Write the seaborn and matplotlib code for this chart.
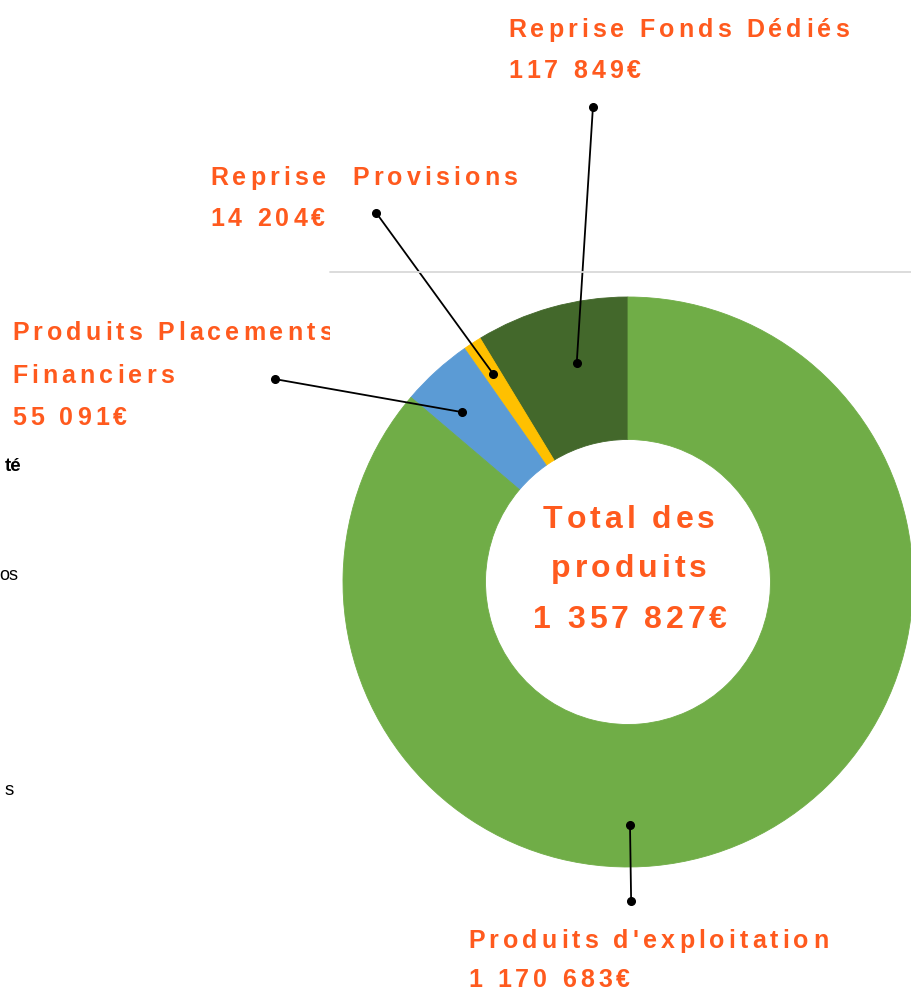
import matplotlib
matplotlib.use("Agg")
import matplotlib.pyplot as plt
import seaborn as sns
from matplotlib.font_manager import FontProperties
from matplotlib.lines import Line2D
from matplotlib.transforms import Bbox

sns.set_theme(style="white")
plt.rcParams["font.family"] = ["Liberation Sans", "DejaVu Sans"]

# -------------------------------------------
# Data
# -------------------------------------------
categories = ["Reprise Fonds Dédiés", "Reprise  Provisions",
              "Produits Placements Financiers", "Produits d'exploitation"]
values = [117849, 14204, 55091, 1170683]
value_labels = ["117 849€", "14 204€", "55 091€", "1 170 683€"]
total_label = "1 357 827€"

colors = ["#43682B", "#FFC000", "#5B9BD5", "#70AD47"]
ORANGE = "#FF5A1E"

W, H = 912, 993
fig = plt.figure(figsize=(W / 100, H / 100), dpi=100)
fig.patch.set_facecolor("white")

# pie centre (628, 582) px, radius 285 px
cx, cy, R = 628, 582, 285
ax = fig.add_axes([(cx - R) / W, (H - cy - R) / H, 2 * R / W, 2 * R / H])
ax.pie(values, colors=colors, startangle=90, counterclock=True, radius=1,
       wedgeprops=dict(width=0.5, linewidth=0.6))
for w, c in zip(ax.patches, colors):
    w.set_edgecolor(c)
ax.set_xlim(-1, 1)
ax.set_ylim(-1, 1)
ax.set_aspect("equal")
ax.axis("off")

renderer = fig.canvas.get_renderer()


def spaced(x, y, s, size, track, ha="left", weight="bold", color=ORANGE, clip_x=None):
    """draw text char by char with letter spacing, x/y in px from top-left, y = baseline"""
    prop = FontProperties(family="Liberation Sans", weight=weight, size=size)

    def tw(t):
        return renderer.get_text_width_height_descent(t, prop, ismath=False)[0]

    base = tw("||")
    advs = [tw("|" + ch + "|") - base for ch in s]
    total = sum(advs) + track * (len(s) - 1)
    if ha == "center":
        x0 = x - total / 2
    elif ha == "right":
        x0 = x - total
    else:
        x0 = x
    cur = x0
    for ch, a in zip(s, advs):
        t = fig.text(cur / W, 1 - y / H, ch, fontproperties=prop, color=color,
                     ha="left", va="baseline")
        if clip_x is not None:
            t.set_clip_box(Bbox([[0, 0], [clip_x, H]]))
            t.set_clip_on(True)
        cur += a + track


# label text (px from top-left, baseline)
spaced(508, 37, "Reprise Fonds Dédiés", 18, 4.1)
spaced(508, 78, value_labels[0], 18, 4.1)
spaced(210, 185, "Reprise  Provisions", 18, 4.1)
spaced(210, 226, value_labels[1], 18, 4.1)
spaced(12, 340, "Produits Placements", 18, 4.1, clip_x=330)
spaced(12, 383, "Financiers", 18, 4.1)
spaced(12, 425, value_labels[2], 18, 4.1)
spaced(468, 948, "Produits d'exploitation", 18, 4.1)
spaced(468, 987, value_labels[3], 18, 4.1)

# centre text
spaced(629, 528, "Total des", 23, 4.0, ha="center")
spaced(629, 577, "produits", 23, 4.0, ha="center")
spaced(630, 628, total_label, 23, 3.8, ha="center")

# leader lines: inner point -> outer point (pie data units)
leaders = [((-0.180, 0.767), (-0.123, 1.667)),
           ((-0.473, 0.730), (-0.884, 1.296)),
           ((-0.582, 0.596), (-1.239, 0.712)),
           ((0.007, -0.853), (0.011, -1.119))]
for (x1, y1), (x2, y2) in leaders:
    ax.plot([x1, x2], [y1, y2], color="black", lw=1.3, clip_on=False,
            marker="o", ms=5.5, solid_capstyle="round")

# separator line of the chart frame
fig.add_artist(Line2D([330 / W, 1], [1 - 272 / H] * 2, transform=fig.transFigure,
                      color="#D9D9D9", lw=1.3))

# fragments of neighbouring text cut at the left edge
fig.text(21 / W, 1 - 471 / H, "té", fontsize=13.5, fontweight="bold", color="black",
         ha="right", va="baseline")
fig.text(18.5 / W, 1 - 580 / H, "os", fontsize=13, color="black",
         ha="right", va="baseline")
fig.text(13.5 / W, 1 - 795 / H, "s", fontsize=13.5, color="black",
         ha="right", va="baseline")

plt.savefig("out.png", dpi=100)
